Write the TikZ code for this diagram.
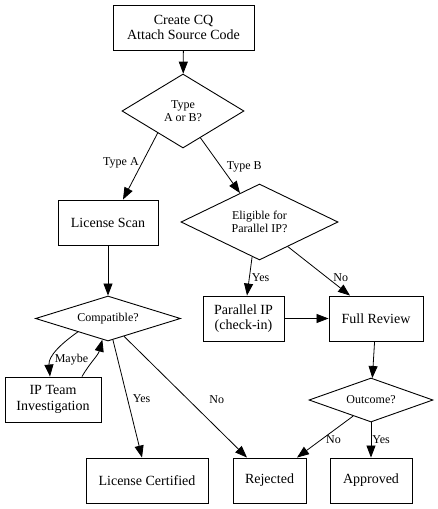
\documentclass[tikz,border=0pt]{standalone}
\usepackage{fontspec}
\setmainfont{Liberation Serif}
\usetikzlibrary{positioning,arrows.meta,shapes.geometric}

\begin{document}
\begin{tikzpicture}[
  x=1pt,y=-1pt,
  box/.style={draw,line width=0.9pt,minimum height=45pt,inner sep=2pt,align=center,font=\fontsize{14}{15.5}\selectfont},
  decision/.style={draw,diamond,line width=0.9pt,inner sep=0pt,aspect=2,align=center,font=\fontsize{12}{13.5}\selectfont},
  lbl/.style={font=\fontsize{12}{13}\selectfont,inner sep=1pt},
  >={Triangle[length=12pt,width=9pt]}]
  \fill[white] (0,0) rectangle (437,509);
  \useasboundingbox (0,0) rectangle (437,509);
  \node (cq) [box,minimum width=141pt] at (183.5,27.5) {Create CQ\\Attach Source Code};
  \node (type) [decision,minimum width=122pt,minimum height=74pt] at (183,111) {Type\\A or B?};
  \node (scan) [box,minimum width=100pt] at (108,222.5) {License Scan};
  \node (elig) [decision,minimum width=157pt,minimum height=76pt] at (259.5,222) {Eligible for\\Parallel IP?};
  \node (comp) [decision,minimum width=145pt,minimum height=45pt] at (108,318.5) {Compatible?};
  \node (pip) [box,minimum width=81pt] at (243.5,318.5) {Parallel IP\\(check-in)};
  \node (full) [box,minimum width=94pt] at (376,318.5) {Full Review};
  \node (ipt) [box,minimum width=96pt] at (53,399.5) {IP Team\\Investigation};
  \node (out) [decision,minimum width=124pt,minimum height=44pt] at (371,400) {Outcome?};
  \node (cert) [box,minimum width=122pt] at (147,480.5) {License Certified};
  \node (rej) [box,minimum width=73pt] at (269.5,480.5) {Rejected};
  \node (appr) [box,minimum width=82pt] at (371,480.5) {Approved};
  \begin{scope}[line width=0.8pt]
    \draw[->] (cq) -- (type);
    \draw[->] (type.221) -- node[lbl,pos=0.45,left=2pt] {Type A} ([xshift=15pt]scan.north);
    \draw[->] (type.303) -- node[lbl,pos=0.53,right=4pt] {Type B} (elig.124);
    \draw[->] (scan) -- (comp);
    \draw[->] (elig.258) -- node[lbl,pos=0.53,right=1pt] {Yes} ([xshift=3.5pt]pip.north);
    \draw[->] (elig.319) -- node[lbl,pos=0.63,right=5pt] {No} ([xshift=-26pt]full.north);
    \draw[->] (pip) -- (full);
    \draw[->] (comp.204) to[out=215,in=95] node[lbl,pos=0.68,right=1pt] {Maybe} ([xshift=-3pt]ipt.north);
    \draw[->] ([xshift=29pt]ipt.north) to[out=60,in=255] (comp.255);
    \draw[->] (comp.283) -- node[lbl,pos=0.5,right=4pt] {Yes} ([xshift=-5pt]cert.north);
    \draw[->] (comp.312) -- node[lbl,pos=0.52,right=20pt] {No} ([xshift=-22.5pt]rej.north);
    \draw[->] (full) -- (out);
    \draw[->] (out.222) -- node[lbl,pos=0.56,right=3pt] {No} ([xshift=27.5pt]rej.north);
    \draw[->] (out) -- node[lbl,pos=0.5,right=0pt] {Yes} (appr);
  \end{scope}
\end{tikzpicture}
\end{document}
